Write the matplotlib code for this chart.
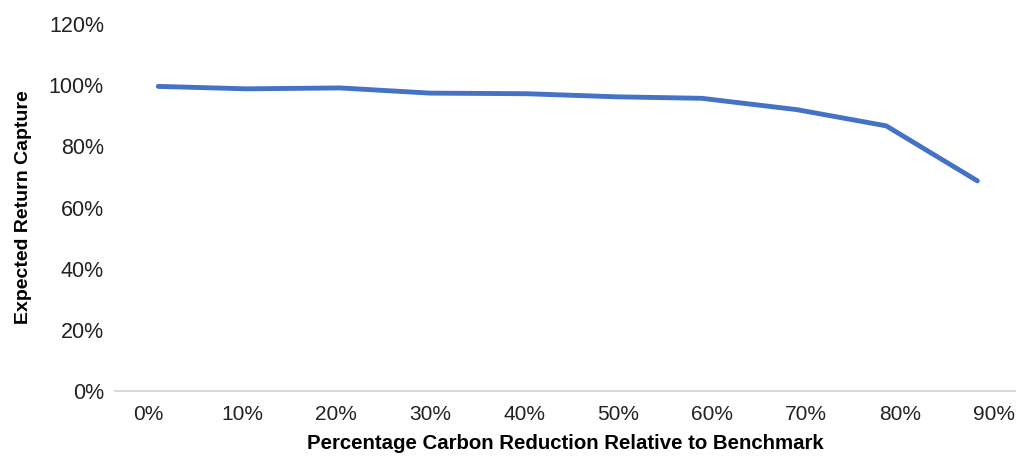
import matplotlib
matplotlib.use("Agg")
import matplotlib.pyplot as plt
from matplotlib.ticker import FuncFormatter

# Data
carbon_reduction = [1.1, 10.5, 20.4, 30.0, 40.3, 49.7, 58.9, 69.0, 78.5, 88.2]
return_capture = [99.6, 98.8, 99.1, 97.4, 97.2, 96.2, 95.7, 92.0, 86.7, 68.7]
x_ticks = [0, 10, 20, 30, 40, 50, 60, 70, 80, 90]
y_ticks = [0, 20, 40, 60, 80, 100, 120]

fig = plt.figure(figsize=(10.19, 4.58), dpi=100)
ax = fig.add_axes([115/1019, 1 - 391/458, 900/1019, (391-24)/458])

ax.plot(carbon_reduction, return_capture, color="#4472C4", linewidth=3.5,
        solid_capstyle="round", solid_joinstyle="round")

ax.set_xlim(-3.5, 92.2)
ax.set_ylim(0, 120)
ax.set_xticks(x_ticks)
ax.set_yticks(y_ticks)
ax.xaxis.set_major_formatter(FuncFormatter(lambda v, p: f"{v:.0f}%"))
ax.yaxis.set_major_formatter(FuncFormatter(lambda v, p: f"{v:.0f}%"))

for s in ["top", "right", "left"]:
    ax.spines[s].set_visible(False)
ax.spines["bottom"].set_color("#D9D9D9")
ax.spines["bottom"].set_linewidth(1.5)
ax.tick_params(axis="both", length=0)
ax.tick_params(axis="y", pad=8)
ax.tick_params(axis="x", pad=10)

for lab in ax.get_yticklabels():
    lab.set_fontfamily(["Liberation Sans", "DejaVu Sans"])
    lab.set_fontsize(15.5)
    lab.set_color("#222222")
for lab in ax.get_xticklabels():
    lab.set_fontfamily(["Liberation Sans", "DejaVu Sans"])
    lab.set_fontsize(15)
    lab.set_color("#222222")

ax.set_ylabel("Expected Return Capture", fontsize=14, fontweight="bold",
              family=["Liberation Sans", "DejaVu Sans"], labelpad=12)
ax.set_xlabel("Percentage Carbon Reduction Relative to Benchmark", fontsize=14.7,
              fontweight="bold",
              family=["Liberation Sans", "DejaVu Sans"],
              labelpad=7)

fig.savefig("out.png", dpi=100)
